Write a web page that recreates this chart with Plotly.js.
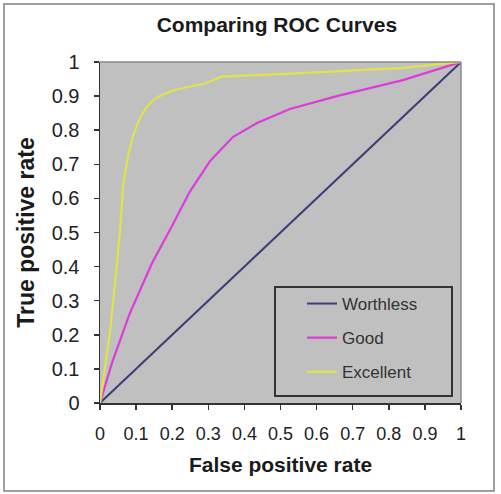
<!DOCTYPE html>
<html>
<head>
<meta charset="utf-8">
<script src="https://cdn.plot.ly/plotly-3.0.1.min.js"></script>
<style>html,body{margin:0;padding:0;background:#fff;}#chart{width:501px;height:494px;}</style>
</head>
<body>
<div id="chart"></div>
<script>
// Data
const seriesNames = ["Worthless", "Good", "Excellent"];

const worthlessFpr = [0, 0.1, 0.2, 0.3, 0.4, 0.5, 0.6, 0.7, 0.8, 0.9, 1];
const worthlessTpr = [0, 0.1, 0.2, 0.3, 0.4, 0.5, 0.6, 0.7, 0.8, 0.9, 1];

const goodFpr = [0, 0.033, 0.083, 0.144, 0.195, 0.249, 0.305, 0.368, 0.435, 0.526, 0.656, 0.839, 1];
const goodTpr = [0, 0.117, 0.264, 0.41, 0.51, 0.62, 0.71, 0.78, 0.821, 0.862, 0.9, 0.947, 1];

const excellentFpr = [0, 0.01, 0.028, 0.047, 0.055, 0.064, 0.078, 0.092, 0.106, 0.12, 0.134, 0.15, 0.171, 0.2, 0.226, 0.291, 0.337, 0.53, 0.7, 0.83, 1];
const excellentTpr = [0, 0.08, 0.21, 0.41, 0.5, 0.64, 0.727, 0.785, 0.825, 0.853, 0.874, 0.89, 0.903, 0.915, 0.923, 0.937, 0.957, 0.966, 0.974, 0.982, 1];

const tickVals = [0, 0.1, 0.2, 0.3, 0.4, 0.5, 0.6, 0.7, 0.8, 0.9, 1];
const tickText = ["0", "0.1", "0.2", "0.3", "0.4", "0.5", "0.6", "0.7", "0.8", "0.9", "1"];

const FONT = "Liberation Sans, Arial, sans-serif";

const traces = [
  {x: worthlessFpr, y: worthlessTpr, name: seriesNames[0], legendgroup: "a", mode: "lines",
   line: {color: "#3e3e78", width: 2}},
  {x: goodFpr, y: goodTpr, name: seriesNames[1], legendgroup: "b", mode: "lines",
   line: {color: "#dc3cdc", width: 2.2}},
  {x: excellentFpr, y: excellentTpr, name: seriesNames[2], legendgroup: "c", mode: "lines",
   line: {color: "#e2e24a", width: 2.2}}
];

const L = 100, R = 40, T = 62, B = 91, W = 501, H = 494;
const pw = W - L - R, ph = H - T - B;
const px = v => (v - L) / pw;
const py = v => (H - B - v) / ph;

const layout = {
  width: W, height: H,
  margin: {l: L, r: R, t: T, b: B, pad: 0},
  paper_bgcolor: "#ffffff",
  plot_bgcolor: "#c0c0c0",
  showlegend: true,
  title: {text: "Comparing ROC Curves", font: {family: FONT, size: 21, color: "#1a1a1a", weight: "bold"},
          x: 0.49, xref: "paper", xanchor: "center", y: 1 - 25 / H, yanchor: "middle"},
  xaxis: {
    range: [0, 1], tickvals: tickVals, ticktext: tickText,
    showgrid: false, zeroline: false, showline: true, linecolor: "#333", linewidth: 1.5,
    ticks: "outside", ticklen: 5, tickwidth: 1.5, tickcolor: "#333",
    ticklabelstandoff: 9,
    tickfont: {family: FONT, size: 18, color: "#222"},
    title: {text: "False positive rate", font: {family: FONT, size: 21, color: "#1a1a1a", weight: "bold"}, standoff: 14},
    automargin: false, fixedrange: true
  },
  yaxis: {
    range: [0, 1], tickvals: tickVals, ticktext: tickText,
    showgrid: false, zeroline: false, showline: true, linecolor: "#333", linewidth: 1.5,
    ticks: "outside", ticklen: 5, tickwidth: 1.5, tickcolor: "#333",
    ticklabelstandoff: 10,
    tickfont: {family: FONT, size: 20, color: "#222"},
    title: {text: "True positive rate", font: {family: FONT, size: 23, color: "#1a1a1a", weight: "bold"}, standoff: 10},
    automargin: false, fixedrange: true
  },
  legend: {
    x: px(302), y: py(286), xanchor: "left", yanchor: "top",
    bgcolor: "rgba(0,0,0,0)", borderwidth: 0,
    font: {family: FONT, size: 17, color: "#333"},
    tracegroupgap: 9
  },
  shapes: [
    {type: "rect", xref: "paper", yref: "paper", x0: px(4), x1: px(494), y0: py(491), y1: py(4),
     line: {color: "#808080", width: 1.5}, fillcolor: "rgba(0,0,0,0)"},
    {type: "line", xref: "paper", yref: "paper", x0: 0, x1: 1, y0: 1, y1: 1, line: {color: "#8a8a8a", width: 1.5}},
    {type: "line", xref: "paper", yref: "paper", x0: 1, x1: 1, y0: 0, y1: 1, line: {color: "#8a8a8a", width: 1.5}},
    {type: "rect", xref: "paper", yref: "paper", x0: px(275), x1: px(452), y0: py(396), y1: py(287),
     line: {color: "#333", width: 2}, fillcolor: "rgba(0,0,0,0)", layer: "above"}
  ]
};

Plotly.newPlot("chart", traces, layout, {staticPlot: true, displayModeBar: false});
</script>
</body>
</html>
